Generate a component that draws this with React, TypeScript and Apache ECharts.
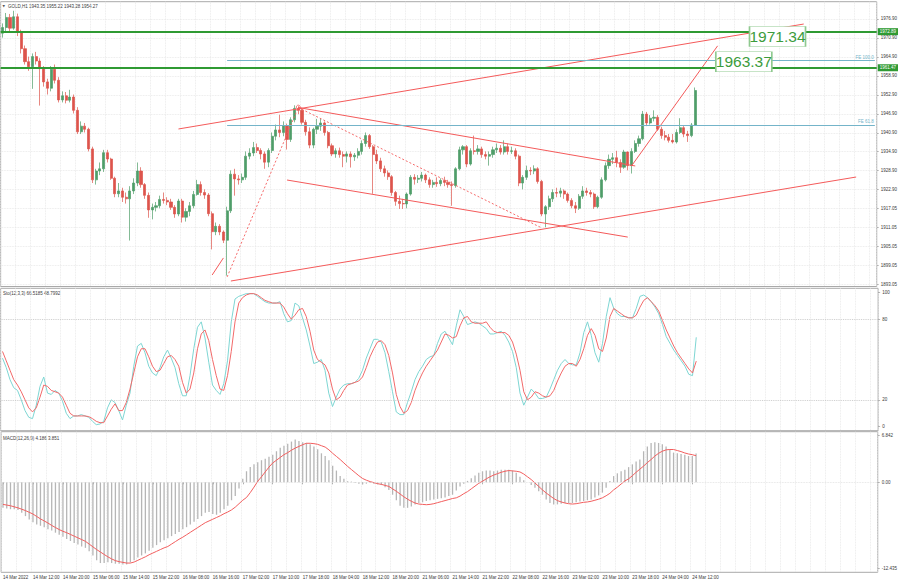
import React, { useEffect, useRef } from "react";
import * as echarts from "echarts";

const symbolName = "GOLD,H1";
const tickLabels = [
  "14 Mar 2022", "14 Mar 12:00", "14 Mar 20:00", "15 Mar 06:00", "15 Mar 14:00", "15 Mar 22:00",
  "16 Mar 08:00", "16 Mar 16:00", "17 Mar 02:00", "17 Mar 10:00", "17 Mar 18:00", "18 Mar 04:00",
  "18 Mar 12:00", "18 Mar 20:00", "21 Mar 06:00", "21 Mar 14:00", "21 Mar 22:00", "22 Mar 08:00",
  "22 Mar 16:00", "23 Mar 02:00", "23 Mar 10:00", "23 Mar 18:00", "24 Mar 04:00", "24 Mar 12:00",
];

const opens = [
  1972.4, 1974.2, 1977.4, 1974.0, 1977.6, 1972.8, 1967.5, 1963.4, 1961.8, 1965.0,
  1963.6, 1961.2, 1957.0, 1955.0, 1961.0, 1957.5, 1951.3, 1952.6, 1951.2, 1952.2,
  1948.0, 1941.2, 1943.0, 1942.0, 1935.8, 1926.0, 1928.8, 1929.5, 1934.6, 1932.6,
  1926.5, 1921.6, 1922.5, 1920.5, 1920.0, 1922.5, 1925.0, 1928.8, 1924.5, 1921.1,
  1916.5, 1917.3, 1917.8, 1919.8, 1919.5, 1919.0, 1917.3, 1915.2, 1919.3, 1914.2,
  1916.0, 1917.8, 1921.4, 1924.5, 1922.0, 1921.2, 1915.3, 1909.6, 1911.3, 1909.5,
  1906.9, 1916.2, 1927.8, 1926.3, 1926.0, 1926.8, 1933.5, 1934.5, 1936.2, 1935.3,
  1934.2, 1931.6, 1935.3, 1939.8, 1941.8, 1941.0, 1943.2, 1938.8, 1945.0, 1948.6,
  1948.0, 1944.2, 1941.2, 1937.0, 1942.0, 1943.0, 1944.0, 1941.0, 1936.8, 1934.2,
  1935.2, 1934.0, 1933.5, 1934.2, 1933.3, 1933.8, 1935.0, 1937.5, 1940.0, 1936.5,
  1934.0, 1932.0, 1929.5, 1928.2, 1927.0, 1922.0, 1919.2, 1918.5, 1918.4, 1921.5,
  1926.8, 1926.2, 1926.5, 1927.5, 1926.0, 1924.5, 1925.2, 1924.8, 1925.8, 1925.2,
  1924.5, 1924.2, 1929.5, 1935.5, 1936.5, 1931.0, 1935.2, 1935.0, 1935.8, 1934.0,
  1933.5, 1934.0, 1935.5, 1936.0, 1934.8, 1936.5, 1935.0, 1935.2, 1933.5, 1925.0,
  1926.8, 1929.0, 1928.8, 1929.5, 1925.5, 1915.2, 1917.5, 1920.0, 1922.0, 1921.8,
  1922.5, 1921.5, 1919.5, 1917.8, 1917.0, 1920.8, 1922.5, 1922.0, 1921.5, 1917.5,
  1920.5, 1926.0, 1930.5, 1932.5, 1933.0, 1931.5, 1930.0, 1934.8, 1930.5, 1935.0,
  1937.5, 1939.0, 1946.8, 1944.0, 1945.5, 1945.8, 1942.0, 1940.0, 1939.5, 1938.5,
  1938.0, 1941.0, 1942.5, 1940.5, 1940.0, 1943.35,
];
const highs = [
  1975.5, 1978.8, 1978.5, 1979.5, 1978.6, 1973.5, 1968.5, 1965.0, 1966.0, 1966.5,
  1964.5, 1962.0, 1958.0, 1962.0, 1962.5, 1958.5, 1954.0, 1953.8, 1954.5, 1953.0,
  1949.0, 1944.5, 1944.0, 1942.5, 1936.5, 1929.5, 1931.5, 1935.5, 1935.5, 1933.0,
  1927.0, 1925.0, 1923.5, 1922.0, 1924.0, 1926.5, 1931.5, 1930.0, 1925.0, 1922.0,
  1918.5, 1919.0, 1921.0, 1922.0, 1920.5, 1920.0, 1918.0, 1920.0, 1920.0, 1917.0,
  1919.0, 1922.5, 1926.0, 1925.5, 1923.0, 1921.8, 1916.0, 1912.5, 1912.0, 1910.0,
  1917.5, 1929.0, 1929.5, 1927.5, 1928.0, 1935.0, 1936.0, 1938.0, 1937.5, 1936.0,
  1935.0, 1936.0, 1941.0, 1943.5, 1946.6, 1944.5, 1943.8, 1945.8, 1949.6, 1949.3,
  1948.8, 1945.0, 1942.6, 1942.5, 1945.3, 1945.3, 1944.5, 1941.5, 1937.5, 1936.0,
  1936.2, 1935.0, 1935.0, 1935.0, 1934.5, 1936.0, 1938.5, 1941.0, 1940.5, 1937.0,
  1935.5, 1933.0, 1930.5, 1929.0, 1927.5, 1922.5, 1921.0, 1920.0, 1922.0, 1927.5,
  1927.8, 1927.5, 1928.5, 1928.0, 1926.8, 1926.0, 1926.8, 1926.5, 1927.0, 1926.0,
  1925.5, 1930.0, 1936.5, 1937.0, 1937.0, 1936.0, 1940.0, 1937.0, 1936.5, 1935.0,
  1935.0, 1936.5, 1937.5, 1937.0, 1938.5, 1937.5, 1936.5, 1936.0, 1934.0, 1927.5,
  1930.5, 1930.0, 1930.6, 1930.0, 1926.0, 1918.0, 1921.0, 1923.0, 1923.5, 1923.5,
  1923.0, 1922.0, 1920.2, 1919.0, 1921.5, 1924.0, 1923.5, 1922.8, 1922.0, 1921.0,
  1926.8, 1931.5, 1934.0, 1934.5, 1935.2, 1932.5, 1935.5, 1935.0, 1936.0, 1938.5,
  1940.0, 1947.8, 1947.5, 1946.5, 1948.0, 1946.5, 1942.8, 1941.5, 1940.5, 1940.5,
  1942.0, 1945.5, 1943.0, 1941.5, 1944.0, 1955.22,
];
const lows = [
  1971.0, 1973.0, 1973.0, 1973.5, 1971.5, 1966.0, 1962.5, 1960.5, 1954.8, 1962.5,
  1949.5, 1955.5, 1953.0, 1954.0, 1956.5, 1950.5, 1950.5, 1950.2, 1950.5, 1947.0,
  1940.5, 1940.5, 1941.0, 1935.0, 1925.0, 1924.5, 1927.5, 1928.5, 1931.5, 1926.0,
  1920.5, 1920.5, 1919.0, 1918.5, 1906.8, 1921.5, 1924.0, 1923.5, 1920.0, 1914.0,
  1913.5, 1916.0, 1917.0, 1918.5, 1918.0, 1916.5, 1914.0, 1914.5, 1912.5, 1912.8,
  1914.5, 1917.0, 1921.0, 1921.0, 1920.0, 1914.5, 1904.0, 1908.5, 1908.5, 1906.0,
  1895.7, 1915.5, 1921.0, 1924.5, 1925.0, 1926.0, 1932.5, 1933.5, 1934.5, 1932.5,
  1929.5, 1930.0, 1934.5, 1938.5, 1939.5, 1939.8, 1935.6, 1938.0, 1944.2, 1946.8,
  1943.5, 1940.0, 1936.0, 1936.0, 1940.5, 1941.5, 1940.0, 1936.0, 1933.5, 1933.0,
  1933.0, 1930.0, 1931.5, 1929.9, 1932.0, 1932.8, 1934.0, 1936.5, 1935.8, 1921.6,
  1931.0, 1928.5, 1927.0, 1926.0, 1921.0, 1917.8, 1916.8, 1916.8, 1917.0, 1921.0,
  1924.5, 1925.0, 1925.5, 1925.0, 1923.5, 1923.5, 1923.8, 1924.0, 1924.0, 1923.5,
  1917.8, 1923.5, 1929.0, 1934.0, 1930.0, 1930.5, 1934.0, 1934.0, 1933.0, 1932.5,
  1930.5, 1933.0, 1934.5, 1934.0, 1934.0, 1934.0, 1934.2, 1932.5, 1924.0, 1923.0,
  1926.0, 1927.5, 1927.8, 1924.8, 1914.5, 1911.0, 1916.5, 1919.0, 1920.5, 1920.5,
  1920.0, 1918.8, 1917.0, 1915.5, 1916.5, 1920.0, 1921.0, 1920.5, 1916.8, 1917.0,
  1920.0, 1925.5, 1929.5, 1931.0, 1930.0, 1928.2, 1929.5, 1929.0, 1928.0, 1934.5,
  1936.5, 1938.5, 1943.0, 1943.5, 1944.5, 1941.5, 1939.0, 1938.5, 1937.8, 1937.5,
  1937.5, 1940.5, 1939.5, 1938.0, 1939.5, 1943.28,
];
const closes = [
  1974.2, 1977.4, 1974.0, 1977.6, 1972.8, 1967.5, 1963.4, 1961.8, 1965.0, 1963.6,
  1961.2, 1957.0, 1955.0, 1961.0, 1957.5, 1951.3, 1952.6, 1951.2, 1952.2, 1948.0,
  1941.2, 1943.0, 1942.0, 1935.8, 1926.0, 1928.8, 1929.5, 1934.6, 1932.6, 1926.5,
  1921.6, 1922.5, 1920.5, 1920.0, 1922.5, 1925.0, 1928.8, 1924.5, 1921.1, 1916.5,
  1917.3, 1917.8, 1919.8, 1919.5, 1919.0, 1917.3, 1915.2, 1919.3, 1914.2, 1916.0,
  1917.8, 1921.4, 1924.5, 1922.0, 1921.2, 1915.3, 1909.6, 1911.3, 1909.5, 1906.9,
  1916.2, 1927.8, 1926.3, 1926.0, 1926.8, 1933.5, 1934.5, 1936.2, 1935.3, 1934.2,
  1931.6, 1935.3, 1939.8, 1941.8, 1941.0, 1943.2, 1938.8, 1945.0, 1948.6, 1948.0,
  1944.2, 1941.2, 1937.0, 1942.0, 1943.0, 1944.0, 1941.0, 1936.8, 1934.2, 1935.2,
  1934.0, 1933.5, 1934.2, 1933.3, 1933.8, 1935.0, 1937.5, 1940.0, 1936.5, 1934.0,
  1932.0, 1929.5, 1928.2, 1927.0, 1922.0, 1919.2, 1918.5, 1918.4, 1921.5, 1926.8,
  1926.2, 1926.5, 1927.5, 1926.0, 1924.5, 1925.2, 1924.8, 1925.8, 1925.2, 1924.5,
  1924.2, 1929.5, 1935.5, 1936.5, 1931.0, 1935.2, 1935.0, 1935.8, 1934.0, 1933.5,
  1934.0, 1935.5, 1936.0, 1934.8, 1936.5, 1935.0, 1935.2, 1933.5, 1925.0, 1926.8,
  1929.0, 1928.8, 1929.5, 1925.5, 1915.2, 1917.5, 1920.0, 1922.0, 1921.8, 1922.5,
  1921.5, 1919.5, 1917.8, 1917.0, 1920.8, 1922.5, 1922.0, 1921.5, 1917.5, 1920.5,
  1926.0, 1930.5, 1932.5, 1933.0, 1931.5, 1930.0, 1934.8, 1930.5, 1935.0, 1937.5,
  1939.0, 1946.8, 1944.0, 1945.5, 1945.8, 1942.0, 1940.0, 1939.5, 1938.5, 1938.0,
  1941.0, 1942.5, 1940.5, 1940.0, 1943.35, 1954.27,
];

const stochMain = [
  51, 44, 35, 29, 27, 20, 12, 7, 6, 16,
  30, 37, 25, 24, 27, 25, 19, 10, 6, 8,
  8, 9, 8, 7, 4, 1.5, 2, 4, 14, 20,
  18, 12, 5, 16, 25, 45, 60, 62, 55, 45,
  40, 38, 44, 52, 57, 51, 44, 32, 23, 23,
  38, 58, 74, 78, 66, 48, 31, 27, 24, 32,
  49, 78, 95, 97, 98, 99, 99, 99, 97, 95,
  93, 92, 92, 92, 93, 84, 78, 79, 92, 90,
  81, 72, 60, 47, 48, 50, 42, 25, 15, 22,
  28, 31, 32, 32, 33, 36, 42, 51, 58, 65,
  65, 63, 55, 41, 26, 11, 9, 9, 18, 26,
  35, 41, 45, 50, 52, 53, 62, 69, 71, 66,
  61, 75, 87, 82, 76, 77, 78, 77, 75, 73,
  69, 69, 70, 71, 68, 63, 56, 44, 25, 16,
  22, 28, 25, 21, 21, 22, 28, 35, 42, 47,
  50, 47, 46, 46, 55, 70, 78, 68, 55, 48,
  62, 82, 96, 88, 84, 82, 82, 81, 81, 88,
  97, 98, 96, 93, 89, 84, 76, 67, 62, 57,
  53, 49, 45, 39, 38, 66.5185,
];
const stochSignal = [
  56, 49, 42, 35, 31, 26, 20, 14, 11, 14,
  22, 31, 30, 27, 26, 25, 22, 16, 10, 8,
  8, 8, 8, 7.5, 6, 4, 3, 3, 8, 13,
  17, 12, 12, 18, 28, 40, 52, 58, 58, 52,
  45, 41, 42, 47, 52, 53, 50, 45, 33, 25,
  28, 40, 58, 69, 72, 64, 50, 38, 28, 27,
  38, 56, 78, 92, 96, 98, 99, 99, 98, 96,
  94, 93, 92, 92, 92, 89, 84, 80, 83, 87,
  88, 82, 71, 57, 50, 48, 46, 40, 28, 20,
  22, 27, 31, 32, 33, 34, 37, 44, 52, 58,
  63, 64, 61, 53, 40, 24, 15, 10, 12, 18,
  27, 34, 40, 45, 49, 53, 57, 63, 69, 68,
  66, 67, 75, 81, 82, 78, 77, 77, 77, 78,
  74, 71, 70, 70, 70, 68, 63, 54, 42, 26,
  20, 22, 26, 25, 23, 22, 23, 27, 34, 40,
  45, 47, 47, 45, 50, 58, 68, 73, 68, 58,
  56, 66, 82, 88, 86, 84, 82, 81, 81, 83,
  89, 94, 96, 93, 90, 86, 79, 72, 66, 60,
  55, 51, 47, 43, 40, 48.7992,
];

const macdHist = [
  -3.7, -3.8, -3.9, -3.9, -4.0, -4.4, -4.9, -5.4, -5.8, -6.1,
  -6.3, -6.5, -6.8, -7.0, -7.3, -7.6, -7.9, -8.2, -8.5, -8.8,
  -9.0, -9.3, -9.5, -10.0, -10.6, -11.3, -11.7, -11.7, -11.6, -11.7,
  -11.8, -11.8, -11.9, -11.9, -11.6, -11.3, -10.9, -10.6, -10.3, -9.9,
  -9.5, -9.1, -8.7, -8.4, -8.1, -7.8, -7.5, -7.2, -6.8, -6.5,
  -6.1, -5.7, -5.3, -4.9, -4.4, -4.3, -4.6, -4.7, -4.4, -3.9,
  -3.4, -2.6, -2.0, -0.9, 0.5, 1.6, 2.2, 2.6, 2.9, 3.2,
  3.4, 3.7, 4.0, 4.5, 5.0, 5.3, 5.6, 5.9, 6.2, 6.0,
  5.8, 5.7, 5.5, 5.2, 4.8, 4.2, 3.8, 3.2, 2.4, 1.7,
  0.9, 0.5, 0.15, 0.1, -0.1, -0.2, -0.3, -0.2, -0.1, -0.2,
  -0.3, -0.4, -0.7, -1.1, -1.8, -2.6, -3.4, -3.7, -3.7, -3.5,
  -3.2, -3.0, -2.9, -2.7, -2.6, -2.5, -2.4, -2.3, -2.2, -2.0,
  -1.8, -1.2, -0.6, -0.2, 0.2, 0.6, 1.0, 1.4, 1.6, 1.7,
  1.7, 1.6, 1.7, 1.8, 1.8, 1.8, 1.7, 1.4, 0.8, 0.3,
  0.0, -0.4, -0.8, -1.3, -1.8, -2.5, -3.0, -3.2, -3.2, -3.1,
  -3.0, -3.0, -3.0, -2.9, -2.8, -2.7, -2.6, -2.5, -2.2, -1.9,
  -1.5, -0.8, 0.2, 0.9, 1.3, 1.6, 1.8, 2.2, 2.6, 3.0,
  3.3, 4.5, 5.2, 5.7, 5.8, 5.7, 5.5, 5.2, 4.8, 4.3,
  4.2, 4.1, 4.0, 3.8, 3.8, 4.186,
];
const macdSignal = [
  -3.2, -3.3, -3.4, -3.55, -3.7, -3.9, -4.1, -4.35, -4.6, -4.95,
  -5.3, -5.6, -5.9, -6.25, -6.55, -6.85, -7.1, -7.3, -7.55, -7.8,
  -8.05, -8.3, -8.55, -8.95, -9.35, -9.75, -10.1, -10.45, -10.8, -11.1,
  -11.35, -11.5, -11.6, -11.7, -11.7, -11.55, -11.3, -11.05, -10.8, -10.5,
  -10.25, -10.0, -9.75, -9.5, -9.3, -8.95, -8.6, -8.25, -7.95, -7.6,
  -7.25, -6.9, -6.55, -6.2, -5.85, -5.6, -5.35, -5.1, -4.85, -4.55,
  -4.3, -4.0, -3.6, -3.1, -2.6, -2.2, -1.5, -0.7, 0.15, 0.8,
  1.5, 2.2, 2.8, 3.2, 3.6, 4.0, 4.3, 4.65, 4.95, 5.2,
  5.45, 5.65, 5.65, 5.6, 5.5, 5.3, 5.1, 4.7, 4.2, 3.75,
  3.3, 2.8, 2.3, 1.85, 1.4, 0.95, 0.55, 0.3, 0.1, -0.05,
  -0.2, -0.3, -0.45, -0.6, -0.95, -1.3, -1.7, -2.1, -2.45, -2.75,
  -3.0, -3.15, -3.2, -3.25, -3.2, -3.1, -2.95, -2.8, -2.65, -2.5,
  -2.35, -2.25, -2.0, -1.65, -1.35, -0.95, -0.55, -0.15, 0.15, 0.5,
  0.8, 1.05, 1.25, 1.45, 1.6, 1.7, 1.65, 1.6, 1.5, 1.2,
  0.8, 0.4, -0.1, -0.6, -1.1, -1.55, -1.95, -2.35, -2.65, -2.85,
  -3.0, -3.1, -3.15, -3.1, -3.0, -2.9, -2.85, -2.75, -2.6, -2.45,
  -2.25, -1.95, -1.6, -1.1, -0.7, -0.25, 0.2, 0.5, 0.95, 1.45,
  1.9, 2.35, 2.85, 3.3, 3.8, 4.2, 4.5, 4.7, 4.75, 4.75,
  4.6, 4.45, 4.25, 4.1, 4.0, 3.851,
];

const priceTicks = [1976.9, 1970.9, 1964.9, 1958.9, 1952.9, 1946.9, 1940.9, 1934.9, 1928.9, 1922.9, 1917.05, 1911.05, 1905.05, 1899.05, 1893.05];
const stochTicks = [100, 80, 20, 0];
const stochLevels = [80, 20];
const macdTicks = [6.842, 0, -12.435];
const greenLevels = [1972.89, 1961.47];
const feNames = ["FE 100.0", "FE 61.8"];
const feValues = [1963.7, 1943.3];
const feStartBar = 60;
const targetValues = [1971.34, 1963.37];
const targetBars = [207, 198];
const peakPoint = [79, 1949.0];
const solidTrends = [
  [[47, 1942.1], [214, 1975.3]],
  [[79, 1948.9], [169, 1930.4]],
  [[76, 1925.95], [167, 1907.9]],
  [[61, 1894.0], [228, 1926.9]],
  [[168, 1930.4], [191, 1968.4]],
  [[56, 1895.9], [59, 1901.3]],
];
const dottedTrends = [
  [[60, 1895.3], [79, 1948.9]],
  [[79, 1948.9], [144, 1910.8]],
];

const SLOTS = 234;
const categories = Array.from({ length: SLOTS }, (_, i) => String(i));
const lastIdx = closes.length - 1;

const UP = "#4f9d69";
const DOWN = "#dd544c";
const TREND = "#f45a5a";
const GREEN = "#2f9a33";
const FE = "#74b4c9";
const GRIDC = "#e4e4e4";
const TXT = "#3a3a3a";
const FONT = "Liberation Sans";
const SMALL = 4.5;

function buildOption() {
  const candles = opens.map((o, i) => [o, closes[i], lows[i], highs[i]]);
  const xBase = (gridIndex: number, withLabels: boolean) => ({
    type: "category",
    gridIndex,
    data: categories,
    boundaryGap: true,
    axisLine: { show: false },
    axisTick: {
      show: withLabels,
      alignWithLabel: true,
      length: 2,
      interval: (i: number) => i % 8 === 0 && i / 8 < tickLabels.length,
      lineStyle: { color: "#777", width: 0.6 },
    },
    axisLabel: {
      show: withLabels,
      interval: (i: number) => i % 8 === 0 && i / 8 < tickLabels.length,
      formatter: (_v: string, i: number) => tickLabels[i / 8] ?? "",
      align: "left",
      fontSize: SMALL,
      color: TXT,
      margin: 3,
      fontFamily: FONT,
    },
    splitLine: {
      show: true,
      interval: (i: number) => i % 4 === 0,
      lineStyle: { color: GRIDC, type: "dotted", width: 0.8 },
    },
  });
  const yBase = (gridIndex: number, min: number, max: number, ticks: number[], fmt: (v: number) => string) => ({
    type: "value",
    gridIndex,
    position: "right",
    min,
    max,
    axisLine: { show: false },
    splitLine: { show: false },
    axisTick: { show: true, customValues: ticks, length: 2, lineStyle: { color: "#888", width: 0.6 } },
    axisLabel: { customValues: ticks, formatter: fmt, fontSize: SMALL, color: TXT, margin: 4, fontFamily: FONT },
  });

  const trendData: any[] = [];
  solidTrends.forEach((seg) => {
    trendData.push([
      { coord: seg[0], lineStyle: { color: TREND, width: 1, type: "solid" } },
      { coord: seg[1] },
    ]);
  });
  dottedTrends.forEach((seg) => {
    trendData.push([
      { coord: seg[0], lineStyle: { color: TREND, width: 0.9, type: [2, 2] } },
      { coord: seg[1] },
    ]);
  });
  feValues.forEach((v, k) => {
    trendData.push([
      {
        coord: [feStartBar, v],
        lineStyle: { color: FE, width: 1, type: "solid" },
        label: { show: true, position: "insideEndTop", formatter: feNames[k], color: FE, fontSize: SMALL, distance: 1, fontFamily: FONT },
      },
      { coord: [SLOTS - 1, v] },
    ]);
  });
  greenLevels.forEach((v) => {
    trendData.push({
      yAxis: v,
      lineStyle: { color: GREEN, width: 2, type: "solid" },
      label: {
        show: true, position: "end", formatter: v.toFixed(2), color: "#ffffff", backgroundColor: GREEN,
        fontSize: SMALL, padding: [1, 2, 1, 2], distance: 1, fontFamily: FONT,
      },
    });
  });
  trendData.push({
    yAxis: closes[lastIdx],
    lineStyle: { opacity: 0, width: 0 },
    label: {
      show: true, position: "end", formatter: closes[lastIdx].toFixed(2), color: "#ffffff", backgroundColor: "#3d3d3d",
      fontSize: SMALL, padding: [1, 2, 1, 2], distance: 1, fontFamily: FONT,
    },
  });

  const targetPoints = targetValues.map((v, k) => ({
    coord: [targetBars[k], v],
    symbol: "rect",
    symbolSize: [56, 20],
    itemStyle: { color: "#ffffff", borderColor: "#8fc98f", borderWidth: 1 },
    label: { show: true, position: "inside", formatter: v.toFixed(2), color: "#3c9c3c", fontSize: 15.5, fontFamily: FONT },
  }));

  return {
    animation: false,
    backgroundColor: "#ffffff",
    textStyle: { fontFamily: FONT },
    grid: [
      { left: 0.625, top: 1.7, width: 877.5, height: 284.8, show: true, borderColor: "#a9a9a9", borderWidth: 1, backgroundColor: "transparent" },
      { left: 0.625, top: 288.3, width: 877.5, height: 142.4, show: true, borderColor: "#a9a9a9", borderWidth: 1, backgroundColor: "transparent" },
      { left: 0.625, top: 431.7, width: 877.5, height: 140.6, show: true, borderColor: "#a9a9a9", borderWidth: 1, backgroundColor: "transparent" },
    ],
    xAxis: [xBase(0, false), xBase(1, false), xBase(2, true)],
    yAxis: [
      yBase(0, 1892.26, 1982.37, priceTicks, (v: number) => v.toFixed(2)),
      yBase(1, -2.98, 102.98, stochTicks, (v: number) => String(v)),
      yBase(2, -13.04, 7.33, macdTicks, (v: number) => (v === 0 ? "0.00" : v.toFixed(3))),
    ],
    graphic: [
      { type: "text", left: 2.5, top: 4, style: { text: "▼", fontSize: 3.2, fill: "#555", fontFamily: "DejaVu Sans" } },
      {
        type: "text", left: 8, top: 3.5,
        style: {
          text: `${symbolName} ${opens[lastIdx].toFixed(2)} ${highs[lastIdx].toFixed(2)} ${lows[lastIdx].toFixed(2)} ${closes[lastIdx].toFixed(2)}`,
          fontSize: SMALL, fill: TXT, fontFamily: FONT,
        },
      },
      {
        type: "text", left: 3, top: 291,
        style: { text: `Sto(12,3,3) ${stochMain[lastIdx].toFixed(4)} ${stochSignal[lastIdx].toFixed(4)}`, fontSize: SMALL, fill: TXT, fontFamily: FONT },
      },
      {
        type: "text", left: 3, top: 435.5,
        style: { text: `MACD(12,26,9) ${macdHist[lastIdx].toFixed(3)} ${macdSignal[lastIdx].toFixed(3)}`, fontSize: SMALL, fill: TXT, fontFamily: FONT },
      },
    ],
    series: [
      {
        type: "line",
        xAxisIndex: 0,
        yAxisIndex: 0,
        data: [],
        silent: true,
        markLine: {
          z: 1,
          silent: true,
          symbol: ["none", "none"],
          label: { show: false },
          lineStyle: { color: GRIDC, type: "dotted", width: 0.8 },
          data: priceTicks.map((v) => ({ yAxis: v })),
        },
      },
      {
        type: "candlestick",
        xAxisIndex: 0,
        yAxisIndex: 0,
        data: candles,
        barWidth: 2.6,
        silent: true,
        itemStyle: { color: UP, color0: DOWN, borderColor: UP, borderColor0: DOWN, borderWidth: 0.7 },
        markLine: {
          silent: true,
          symbol: ["none", "none"],
          label: { show: false },
          data: trendData,
        },
        markPoint: {
          silent: true,
          data: [
            ...targetPoints,
            {
              coord: peakPoint,
              symbol: "circle",
              symbolSize: 4,
              itemStyle: { color: "rgba(0,0,0,0)", borderColor: TREND, borderWidth: 0.8 },
              label: { show: false },
            },
          ],
        },
      },
      {
        type: "line",
        xAxisIndex: 1,
        yAxisIndex: 1,
        data: stochMain,
        symbol: "none",
        silent: true,
        lineStyle: { color: "#7ed6d3", width: 1 },
        markLine: {
          silent: true,
          symbol: ["none", "none"],
          label: { show: false },
          lineStyle: { color: "#c6c6c6", type: "dotted", width: 0.9 },
          data: stochLevels.map((v) => ({ yAxis: v })),
        },
      },
      {
        type: "line",
        xAxisIndex: 1,
        yAxisIndex: 1,
        data: stochSignal,
        symbol: "none",
        silent: true,
        lineStyle: { color: "#f26a6a", width: 1 },
      },
      {
        type: "bar",
        xAxisIndex: 2,
        yAxisIndex: 2,
        data: macdHist,
        barWidth: 1.3,
        silent: true,
        itemStyle: { color: "#b6b6b6" },
        markLine: {
          silent: true,
          symbol: ["none", "none"],
          label: { show: false },
          lineStyle: { color: "#dddddd", type: "dotted", width: 0.8 },
          data: [{ yAxis: 0 }],
        },
      },
      {
        type: "line",
        xAxisIndex: 2,
        yAxisIndex: 2,
        data: macdSignal,
        symbol: "none",
        silent: true,
        lineStyle: { color: "#f25e5e", width: 1 },
      },
    ],
  };
}

export default function App() {
  const ref = useRef<HTMLDivElement>(null);
  useEffect(() => {
    if (!ref.current) return;
    const chart = echarts.init(ref.current, null, { renderer: "svg" });
    chart.setOption(buildOption() as any);
    return () => chart.dispose();
  }, []);
  return (
    <div
      ref={ref}
      style={{ position: "fixed", left: 0, top: 0, width: 900, height: 585, background: "#ffffff" }}
    />
  );
}
